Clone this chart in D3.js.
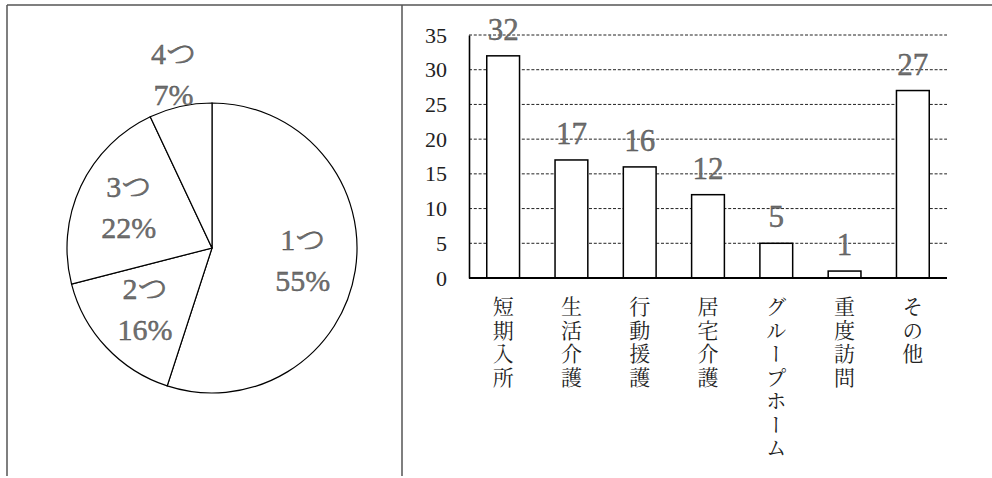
<!DOCTYPE html>
<html>
<head>
<meta charset="utf-8">
<script src="https://cdn.jsdelivr.net/npm/d3@7"></script>
<style>
  html, body { margin: 0; padding: 0; background: #fff; }
  svg { display: block; }
</style>
</head>
<body>
<svg id="chart" width="992" height="478"></svg>
<script>
// Number of services used (pie) and services in use (bar)
const pieLabels = ["1つ", "2つ", "3つ", "4つ"];
const pieShares = [55, 16, 22, 7];

const categories = ["短期入所", "生活介護", "行動援護", "居宅介護", "グループホーム", "重度訪問", "その他"];
const counts = [32, 17, 16, 12, 5, 1, 27];
const yTicks = [0, 5, 10, 15, 20, 25, 30, 35];

const serif = "'Liberation Serif', 'DejaVu Serif', 'Noto Serif', 'Noto Serif CJK JP', FreeSerif, Times, 'Noto Sans CJK JP', serif";
const cjk = "'Noto Serif CJK JP', 'Noto Sans CJK JP', sans-serif";

const svg = d3.select("#chart");

// ---- panel frame ----
const frame = svg.append("g").attr("stroke", "#555").attr("stroke-width", 1.5);
frame.append("line").attr("x1", 7).attr("x2", 992).attr("y1", 5).attr("y2", 5);
frame.append("line").attr("x1", 7).attr("x2", 7).attr("y1", 5).attr("y2", 476);
frame.append("line").attr("x1", 402).attr("x2", 402).attr("y1", 5).attr("y2", 476);

// ---- pie ----
const cx = 212, cy = 248, r = 145;
const pie = d3.pie().sort(null).value(d => d.v);
const arcs = pie(pieShares.map((v, i) => ({ v, label: pieLabels[i] })));
const arc = d3.arc().innerRadius(0).outerRadius(r);

const gPie = svg.append("g").attr("transform", `translate(${cx},${cy})`);
gPie.selectAll("path")
  .data(arcs)
  .join("path")
  .attr("d", arc)
  .attr("fill", "#fff")
  .attr("stroke", "#000")
  .attr("stroke-width", 1.2);

// small slices get their label outside the circle
const labelRadius = d => (d.data.v < 10 ? r + 31 : 92);
const labels = gPie.selectAll("g.lab")
  .data(arcs)
  .join("g")
  .attr("class", "lab")
  .attr("transform", d => {
    const a = (d.startAngle + d.endAngle) / 2;
    const lr = labelRadius(d);
    return `translate(${Math.sin(a) * lr},${-Math.cos(a) * lr})`;
  });

labels.append("text")
  .attr("y", -12)
  .text(d => d.data.label);
labels.append("text")
  .attr("y", 29)
  .text(d => d.data.v + "%");
labels.selectAll("text")
  .attr("text-anchor", "middle")
  .style("font-family", serif)
  .attr("font-size", 30)
  .attr("fill", "#707070")
  .attr("stroke", "#444")
  .attr("stroke-width", 0.35);

// ---- bar chart ----
const x = d3.scaleBand()
  .domain(categories)
  .range([469, 947])
  .paddingInner(0.52)
  .paddingOuter(0.26);
const y = d3.scaleLinear().domain([0, 35]).range([278, 35]);

// dashed gridlines
svg.append("g")
  .selectAll("line")
  .data(yTicks.filter(t => t > 0))
  .join("line")
  .attr("x1", 469)
  .attr("x2", 947)
  .attr("y1", d => y(d))
  .attr("y2", d => y(d))
  .attr("stroke", "#222")
  .attr("stroke-width", 1)
  .attr("stroke-dasharray", "3,1.8");

// y axis
const yAxis = svg.append("g")
  .attr("transform", "translate(469,0)")
  .call(d3.axisLeft(y).tickValues(yTicks).tickSize(0).tickSizeOuter(0).tickPadding(22));
yAxis.select(".domain").attr("stroke", "#000").attr("stroke-width", 1.6);
yAxis.selectAll("text")
  .style("font-family", serif)
  .attr("font-size", 22)
  .attr("fill", "#222");

// bars
svg.append("g")
  .selectAll("rect")
  .data(counts)
  .join("rect")
  .attr("x", (d, i) => x(categories[i]))
  .attr("y", d => y(d))
  .attr("width", x.bandwidth())
  .attr("height", d => y(0) - y(d))
  .attr("fill", "#fff")
  .attr("stroke", "#000")
  .attr("stroke-width", 1.5);

// baseline
svg.append("line")
  .attr("x1", 469).attr("x2", 947)
  .attr("y1", y(0)).attr("y2", y(0))
  .attr("stroke", "#000").attr("stroke-width", 2);

// value labels
svg.append("g")
  .selectAll("text")
  .data(counts)
  .join("text")
  .attr("x", (d, i) => x(categories[i]) + x.bandwidth() / 2)
  .attr("y", d => y(d) - 16)
  .attr("text-anchor", "middle")
  .style("font-family", serif)
  .attr("font-size", 31)
  .attr("fill", "#707070")
  .attr("stroke", "#444")
  .attr("stroke-width", 0.35)
  .text(d => d);

// vertical category labels
svg.append("g")
  .selectAll("text")
  .data(categories)
  .join("text")
  .attr("x", d => x(d) + x.bandwidth() / 2)
  .attr("y", 296)
  .attr("writing-mode", "vertical-rl")
  .style("writing-mode", "vertical-rl")
  .style("font-family", cjk)
  .attr("font-size", 21)
  .attr("letter-spacing", 2.5)
  .attr("fill", "#222")
  .text(d => d);
</script>
</body>
</html>
